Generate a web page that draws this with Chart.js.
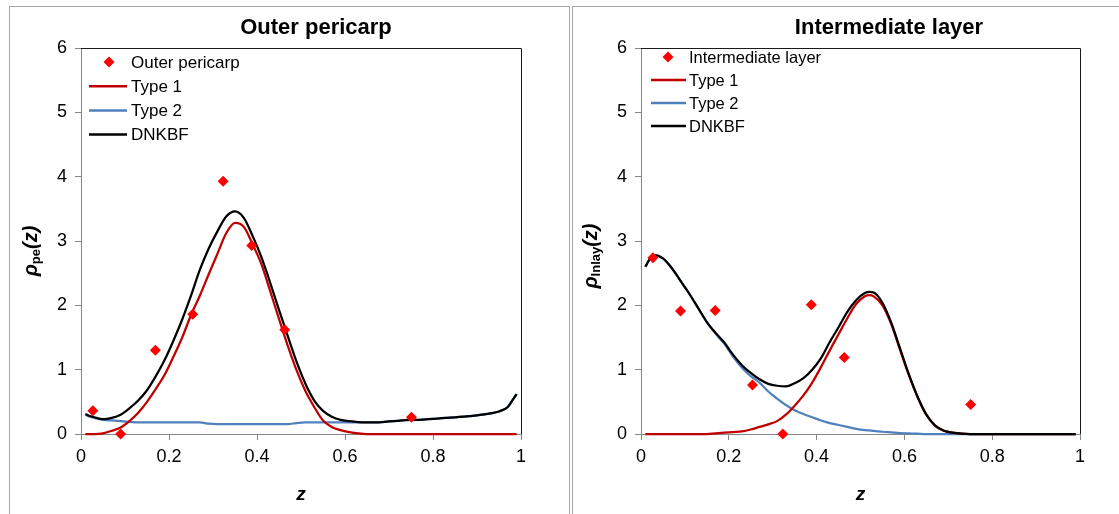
<!DOCTYPE html>
<html>
<head>
<meta charset="utf-8">
<script src="https://cdn.jsdelivr.net/npm/chart.js@4.4.1/dist/chart.umd.min.js"></script>
<style>
  body { margin: 0; background: #fff; width: 1119px; height: 514px; overflow: hidden; position: relative; }
  .painel { position: absolute; top: 6px; border-top: 1px solid #a6a6a6; border-left: 1px solid #a6a6a6; }
  #painelEsq { left: 9px; width: 559px; height: 508px; border-right: 1px solid #a6a6a6; }
  #painelDir { left: 572px; width: 547px; height: 508px; }
  canvas { display: block; }
</style>
</head>
<body>
<div class="painel" id="painelEsq"><canvas id="graficoOuter" width="559" height="507"></canvas></div>
<div class="painel" id="painelDir"><canvas id="graficoInter" width="546" height="507"></canvas></div>
<script>
// Posições z das curvas (mesma grade nos dois painéis)
const zCurva = [0.01, 0.02, 0.03, 0.05, 0.07, 0.09, 0.11, 0.13, 0.15, 0.17, 0.19, 0.21, 0.23, 0.25, 0.27, 0.29,
    0.31, 0.33, 0.35, 0.37, 0.39, 0.41, 0.43, 0.45, 0.47, 0.49, 0.51, 0.52, 0.53, 0.55, 0.57, 0.59, 0.61, 0.63,
    0.65, 0.67, 0.69, 0.71, 0.73, 0.75, 0.77, 0.79, 0.81, 0.83, 0.85, 0.87, 0.89, 0.91, 0.93, 0.95, 0.97, 0.98, 0.99];

// Posições z dos pontos medidos
const zPontos = [0.027, 0.09, 0.169, 0.254, 0.323, 0.388, 0.463, 0.751];

// Outer pericarp
const outerPontos = [0.36, 0.0, 1.30, 1.86, 3.93, 2.93, 1.62, 0.26];
const outerTipo1 = [0, 0, 0, 0.01, 0.05, 0.1, 0.2, 0.33, 0.5, 0.7, 0.92, 1.2, 1.5, 1.85, 2.15, 2.48,
    2.8, 3.12, 3.28, 3.22, 2.95, 2.64, 2.22, 1.79, 1.37, 0.99, 0.67, 0.54, 0.42, 0.21, 0.11, 0.06, 0.03, 0.01,
    0, 0, 0, 0, 0, 0, 0, 0, 0, 0, 0, 0, 0, 0, 0, 0, 0, 0, 0];
const outerTipo2 = [0.3, 0.27, 0.25, 0.22, 0.21, 0.2, 0.19, 0.18, 0.18, 0.18, 0.18, 0.18, 0.18, 0.18, 0.18, 0.16,
    0.155, 0.155, 0.155, 0.155, 0.155, 0.155, 0.155, 0.155, 0.155, 0.17, 0.18, 0.18, 0.18, 0.18, 0.18, 0.18, 0.18, 0.18,
    0.18, 0.18, 0.19, 0.2, 0.21, 0.22, 0.22, 0.23, 0.24, 0.25, 0.26, 0.27, 0.28, 0.3, 0.32, 0.35, 0.42, 0.52, 0.62];
const outerDnkbf = [0.31, 0.28, 0.26, 0.23, 0.25, 0.3, 0.4, 0.52, 0.68, 0.9, 1.15, 1.45, 1.78, 2.15, 2.55, 2.88,
    3.15, 3.38, 3.46, 3.36, 3.08, 2.75, 2.35, 1.93, 1.52, 1.12, 0.78, 0.64, 0.52, 0.36, 0.27, 0.22, 0.2, 0.185,
    0.18, 0.18, 0.19, 0.2, 0.21, 0.22, 0.22, 0.23, 0.24, 0.25, 0.26, 0.27, 0.28, 0.3, 0.32, 0.35, 0.42, 0.52, 0.62];

// Intermediate layer
const interPontos = [2.74, 1.91, 1.92, 0.76, 0.0, 2.01, 1.19, 0.46];
const interTipo1 = [0, 0, 0, 0, 0, 0, 0, 0, 0, 0.01, 0.02, 0.03, 0.04, 0.07, 0.11, 0.15,
    0.2, 0.3, 0.44, 0.6, 0.8, 1.04, 1.3, 1.55, 1.8, 2.02, 2.14, 2.16, 2.14, 2.0, 1.71, 1.31, 0.92, 0.575,
    0.3, 0.13, 0.05, 0.02, 0.005, 0, 0, 0, 0, 0, 0, 0, 0, 0, 0, 0, 0, 0, 0];
const interTipo2 = [2.6, 2.72, 2.78, 2.73, 2.58, 2.38, 2.18, 1.96, 1.74, 1.56, 1.4, 1.2, 1.03, 0.9, 0.8, 0.66,
    0.55, 0.45, 0.37, 0.31, 0.26, 0.21, 0.17, 0.14, 0.11, 0.08, 0.06, 0.055, 0.05, 0.035, 0.025, 0.015, 0.01, 0.005,
    0, 0, 0, 0, 0, 0, 0, 0, 0, 0, 0, 0, 0, 0, 0, 0, 0, 0, 0];
const interDnkbf = [2.6, 2.72, 2.78, 2.73, 2.58, 2.38, 2.18, 1.96, 1.74, 1.57, 1.42, 1.23, 1.07, 0.95, 0.85, 0.78,
    0.75, 0.74, 0.79, 0.87, 1.0, 1.18, 1.43, 1.66, 1.9, 2.08, 2.19, 2.21, 2.2, 2.04, 1.73, 1.33, 0.93, 0.58,
    0.3, 0.13, 0.05, 0.02, 0.005, 0, 0, 0, 0, 0, 0, 0, 0, 0, 0, 0, 0, 0, 0];

const FONTE = '"Liberation Sans", Arial, sans-serif';
const CINZA = '#868686';

function montarPontos(xs, ys) {
    return xs.map((x, i) => ({ x: x, y: ys[i] }));
}

// Título, rótulos dos eixos, moldura e legenda desenhados no canvas
const decoracao = {
    id: 'decoracao',
    afterDraw(chart, args, opts) {
        const ctx = chart.ctx;
        const area = chart.chartArea;
        ctx.save();

        // moldura superior e direita
        ctx.strokeStyle = '#1a1a1a';
        ctx.lineWidth = 1;
        ctx.beginPath();
        ctx.moveTo(area.left, area.top + 0.5);
        ctx.lineTo(area.right + 0.5, area.top + 0.5);
        ctx.lineTo(area.right + 0.5, area.bottom);
        ctx.stroke();

        ctx.fillStyle = '#000';
        ctx.textBaseline = 'middle';

        // título
        ctx.font = 'bold 22px ' + FONTE;
        ctx.textAlign = 'center';
        ctx.fillText(opts.titulo, opts.tituloX, 21);

        // eixo x
        ctx.font = 'bold italic 19px ' + FONTE;
        ctx.fillText('z', (area.left + area.right) / 2, 488);

        // eixo y com subscrito
        const partes = [
            { t: 'ρ', f: 'bold italic 20px ' + FONTE, dy: 0 },
            { t: opts.subscrito, f: 'bold 13px ' + FONTE, dy: 5 },
            { t: '(z)', f: 'bold italic 20px ' + FONTE, dy: 0 }
        ];
        let total = 0;
        for (let p of partes) {
            ctx.font = p.f;
            p.w = ctx.measureText(p.t).width;
            total += p.w;
        }
        ctx.translate(opts.eixoYX, opts.eixoYY);
        ctx.rotate(-Math.PI / 2);
        ctx.textAlign = 'left';
        let pos = -total / 2;
        for (let p of partes) {
            ctx.font = p.f;
            ctx.fillText(p.t, pos, p.dy);
            pos += p.w;
        }
        ctx.setTransform(1, 0, 0, 1, 0, 0);

        // legenda
        const leg = opts.legenda;
        ctx.font = leg.tamanho + 'px ' + FONTE;
        ctx.textAlign = 'left';
        chart.data.datasets.forEach((ds, i) => {
            const y = leg.y0 + i * leg.passo;
            if (ds.showLine) {
                ctx.strokeStyle = ds.borderColor;
                ctx.lineWidth = 2.5;
                ctx.beginPath();
                ctx.moveTo(leg.linhaX0, y);
                ctx.lineTo(leg.linhaX1, y);
                ctx.stroke();
            } else {
                const r = 5.5;
                ctx.fillStyle = ds.backgroundColor;
                ctx.beginPath();
                ctx.moveTo(leg.marcaX, y - r);
                ctx.lineTo(leg.marcaX + r, y);
                ctx.lineTo(leg.marcaX, y + r);
                ctx.lineTo(leg.marcaX - r, y);
                ctx.closePath();
                ctx.fill();
            }
            ctx.fillStyle = '#000';
            ctx.fillText(ds.label, leg.textoX, y + 1);
        });
        ctx.restore();
    }
};

function criarGrafico(id, cfg) {
    // ordem: menor valor fica por cima
    const linha = (label, ys, cor, ordem) => ({
        label: label,
        data: montarPontos(zCurva, ys),
        showLine: true,
        order: ordem,
        borderColor: cor,
        backgroundColor: cor,
        borderWidth: 2.25,
        pointRadius: 0,
        cubicInterpolationMode: 'monotone',
        clip: false
    });

    return new Chart(document.getElementById(id), {
        type: 'scatter',
        data: {
            datasets: [
                {
                    label: cfg.nome,
                    data: montarPontos(zPontos, cfg.pontos),
                    showLine: false,
                    order: 0,
                    pointStyle: 'rectRot',
                    pointRadius: 5.5,
                    pointHoverRadius: 5.5,
                    backgroundColor: '#ff0000',
                    borderColor: '#ff0000',
                    borderWidth: 0,
                    clip: false
                },
                linha('Type 1', cfg.tipo1, '#c00000', 2),
                linha('Type 2', cfg.tipo2, '#4f81bd', 3),
                linha('DNKBF', cfg.dnkbf, '#000000', 1)
            ]
        },
        options: {
            responsive: false,
            animation: false,
            events: [],
            layout: { padding: { left: 0, right: cfg.direita, top: 41, bottom: 10 } },
            plugins: {
                legend: { display: false },
                title: { display: false },
                tooltip: { enabled: false },
                decoracao: {
                    titulo: cfg.nome,
                    tituloX: cfg.tituloX,
                    subscrito: cfg.subscrito,
                    eixoYX: cfg.eixoYX,
                    eixoYY: cfg.eixoYY,
                    legenda: cfg.legenda
                }
            },
            scales: {
                x: {
                    type: 'linear',
                    min: 0,
                    max: 1,
                    ticks: {
                        stepSize: 0.2,
                        color: '#000',
                        padding: 6,
                        font: { family: FONTE, size: 18 },
                        callback: valor => String(Number(valor.toFixed(1)))
                    },
                    grid: { drawOnChartArea: false, drawTicks: true, tickLength: 6, color: CINZA },
                    border: { color: CINZA, width: 1 },
                    afterFit(scale) { scale.height = 70; }
                },
                y: {
                    min: 0,
                    max: 6,
                    ticks: { stepSize: 1, color: '#000', padding: 8, font: { family: FONTE, size: 18 } },
                    grid: { drawOnChartArea: false, drawTicks: true, tickLength: 6, color: CINZA },
                    border: { color: CINZA, width: 1 },
                    afterFit(scale) { scale.width = cfg.esquerda; }
                }
            }
        },
        plugins: [decoracao]
    });
}

criarGrafico('graficoOuter', {
    nome: 'Outer pericarp',
    pontos: outerPontos,
    tipo1: outerTipo1,
    tipo2: outerTipo2,
    dnkbf: outerDnkbf,
    esquerda: 71,
    direita: 48,
    tituloX: 306,
    subscrito: 'pe',
    eixoYX: 21,
    eixoYY: 244,
    legenda: { tamanho: 17, y0: 55, passo: 24.2, marcaX: 99, linhaX0: 79, linhaX1: 117, textoX: 121 }
});

criarGrafico('graficoInter', {
    nome: 'Intermediate layer',
    pontos: interPontos,
    tipo1: interTipo1,
    tipo2: interTipo2,
    dnkbf: interDnkbf,
    esquerda: 68,
    direita: 39,
    tituloX: 316,
    subscrito: 'Inlay',
    eixoYX: 18,
    eixoYY: 249,
    legenda: { tamanho: 16.5, y0: 50, passo: 23, marcaX: 95, linhaX0: 78, linhaX1: 113, textoX: 116 }
});
</script>
</body>
</html>
